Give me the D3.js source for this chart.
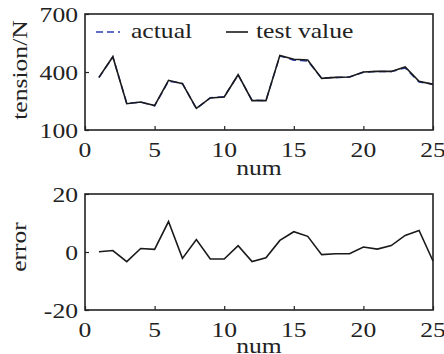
<!DOCTYPE html>
<html>
<head>
<meta charset="utf-8">
<script src="https://cdn.jsdelivr.net/npm/d3@7"></script>
<style>
  body { margin: 0; background: #fff; }
</style>
</head>
<body>
<div id="chart"></div>
<script>
//////////////////////////////  data  /////////////////////////////////
var num = [1,2,3,4,5,6,7,8,9,10,11,12,13,14,15,16,17,18,19,20,21,22,23,24,25];
var testValue = [372,479,236,245,226,357,340,212,266,271,386,252,252,486,466,462,367,372,374,400,403,403,426,352,336];
var actual    = [371,478,238,244,225,353,341,210,267,272,385,254,253,483,461,457,368,372,374,399,403,402,421,348,338];
var error     = [0.1,0.5,-3.3,1.2,0.9,10.5,-2.2,4.3,-2.4,-2.4,2.2,-3.3,-2,4.0,7.0,5.4,-0.9,-0.6,-0.6,1.7,1.0,2.2,5.7,7.4,-3.1];
var xTicks = [0,5,10,15,20,25];
var topTicks = [100,400,700];
var botTicks = [-20,0,20];

var W = 444, H = 354;
var FONT = "'Liberation Serif', 'Times New Roman', 'DejaVu Serif', serif";
var SX = 1.22; // text in the reference is stretched along its run

var svg = d3.select("#chart").append("svg")
  .attr("width", W).attr("height", H)
  .attr("font-family", FONT);

var x = d3.scaleLinear().domain([0,25]).range([85,433]);
var yTop = d3.scaleLinear().domain([100,700]).range([130,14]);
var yBot = d3.scaleLinear().domain([-20,20]).range([310,194]);

// text placed at (tx,ty) and widened by SX
function label(g, tx, ty, str, anchor, rot) {
  return g.append("text")
    .attr("transform", "translate(" + tx + "," + ty + ")" + (rot ? " rotate(-90)" : "") + " scale(" + SX + ",1)")
    .attr("text-anchor", anchor)
    .attr("font-family", FONT)
    .attr("font-size", "21px")
    .attr("fill", "#222")
    .text(str);
}

function panel(y, yTicks, ylabel, labelX, labelY, xLabelBase) {
  var g = svg.append("g");
  var r0 = y.range();

  var xa = g.append("g").attr("transform","translate(0," + r0[0] + ")")
    .call(d3.axisBottom(x).tickValues(xTicks).tickSize(-4).tickFormat(""));
  xa.select(".domain").remove();
  xa.selectAll("line").attr("stroke","#222").attr("stroke-width",1.2);
  xTicks.forEach(function(t){ label(g, x(t), r0[0] + 27, t, "middle"); });

  var ya = g.append("g").attr("transform","translate(" + x.range()[0] + ",0)")
    .call(d3.axisLeft(y).tickValues(yTicks).tickSize(-4).tickFormat(""));
  ya.select(".domain").remove();
  ya.selectAll("line").attr("stroke","#222").attr("stroke-width",1.2);
  yTicks.forEach(function(t){ label(g, x.range()[0] - 7, y(t) + 8, t, "end"); });

  // frame
  g.append("rect")
    .attr("x", x.range()[0]).attr("y", r0[1])
    .attr("width", x.range()[1]-x.range()[0]).attr("height", r0[0]-r0[1])
    .attr("fill","none").attr("stroke","#222").attr("stroke-width",1.6);

  label(g, (x.range()[0]+x.range()[1])/2, xLabelBase, "num", "middle");
  label(g, labelX, labelY, ylabel, "middle", true);
  return g;
}

//////////////////////////////  top panel  /////////////////////////////////
var gTop = panel(yTop, topTicks, "tension/N", 27, 70, 175);

var lineTop = function(vals) {
  return d3.line().x(function(d,i){ return x(num[i]); }).y(function(d){ return yTop(d); })(vals);
};

gTop.append("path").attr("d", lineTop(actual))
  .attr("fill","none").attr("stroke","#2b3fb0").attr("stroke-width",1.5)
  .attr("stroke-dasharray","7,4");
gTop.append("path").attr("d", lineTop(testValue))
  .attr("fill","none").attr("stroke","#1a1a1a").attr("stroke-width",1.6);

// legend
gTop.append("line").attr("x1",96).attr("x2",120).attr("y1",32).attr("y2",32)
  .attr("stroke","#2b3fb0").attr("stroke-width",1.5).attr("stroke-dasharray","7,4");
label(gTop, 131, 38, "actual", "start");
gTop.append("line").attr("x1",226).attr("x2",248).attr("y1",32).attr("y2",32)
  .attr("stroke","#1a1a1a").attr("stroke-width",1.6);
label(gTop, 256, 38, "test value", "start");

//////////////////////////////  bottom panel  /////////////////////////////////
var gBot = panel(yBot, botTicks, "error", 26, 247, 353);

gBot.append("path")
  .attr("d", d3.line().x(function(d,i){ return x(num[i]); }).y(function(d){ return yBot(d); })(error))
  .attr("fill","none").attr("stroke","#1a1a1a").attr("stroke-width",1.6);
</script>
</body>
</html>
